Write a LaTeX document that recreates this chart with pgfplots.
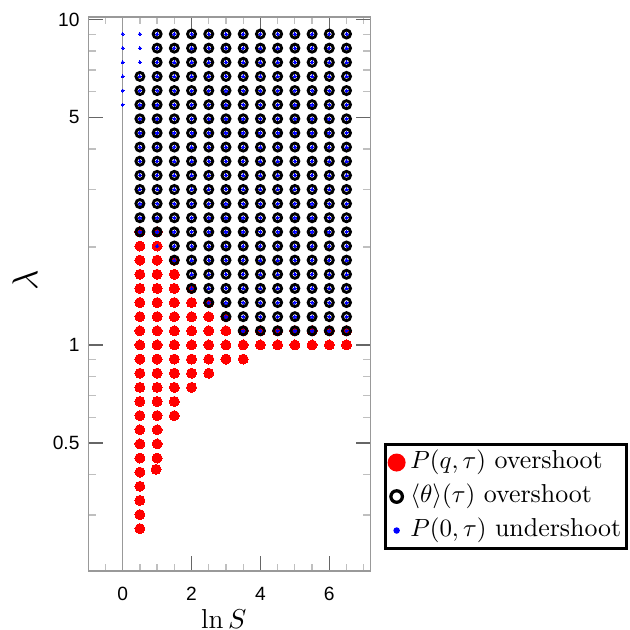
\documentclass[border=0pt]{standalone}
\usepackage{pgfplots}
\pgfplotsset{compat=1.18}
\usepackage{pgfplotstable}
\usepackage{fontspec}
\newfontfamily\ticksf{Liberation Sans}

\pgfplotstableread[row sep=\\]{
x y\\
0.5 2.2255\\0.5 2.4596\\0.5 2.7183\\0.5 3.0042\\0.5 3.3201\\0.5 3.6693\\0.5 4.0552\\0.5 4.4817\\0.5 4.9530\\0.5 5.4739\\0.5 6.0496\\0.5 6.6859\\
1 2.2255\\1 2.4596\\1 2.7183\\1 3.0042\\1 3.3201\\1 3.6693\\1 4.0552\\1 4.4817\\1 4.9530\\1 5.4739\\1 6.0496\\1 6.6859\\1 7.3891\\1 8.1662\\1 9.0250\\
1.5 1.8221\\1.5 2.0138\\1.5 2.2255\\1.5 2.4596\\1.5 2.7183\\1.5 3.0042\\1.5 3.3201\\1.5 3.6693\\1.5 4.0552\\1.5 4.4817\\1.5 4.9530\\1.5 5.4739\\1.5 6.0496\\1.5 6.6859\\1.5 7.3891\\1.5 8.1662\\1.5 9.0250\\
2 1.4918\\2 1.6487\\2 1.8221\\2 2.0138\\2 2.2255\\2 2.4596\\2 2.7183\\2 3.0042\\2 3.3201\\2 3.6693\\2 4.0552\\2 4.4817\\2 4.9530\\2 5.4739\\2 6.0496\\2 6.6859\\2 7.3891\\2 8.1662\\2 9.0250\\
2.5 1.3499\\2.5 1.4918\\2.5 1.6487\\2.5 1.8221\\2.5 2.0138\\2.5 2.2255\\2.5 2.4596\\2.5 2.7183\\2.5 3.0042\\2.5 3.3201\\2.5 3.6693\\2.5 4.0552\\2.5 4.4817\\2.5 4.9530\\2.5 5.4739\\2.5 6.0496\\2.5 6.6859\\2.5 7.3891\\2.5 8.1662\\2.5 9.0250\\
3 1.2214\\3 1.3499\\3 1.4918\\3 1.6487\\3 1.8221\\3 2.0138\\3 2.2255\\3 2.4596\\3 2.7183\\3 3.0042\\3 3.3201\\3 3.6693\\3 4.0552\\3 4.4817\\3 4.9530\\3 5.4739\\3 6.0496\\3 6.6859\\3 7.3891\\3 8.1662\\3 9.0250\\
3.5 1.1052\\3.5 1.2214\\3.5 1.3499\\3.5 1.4918\\3.5 1.6487\\3.5 1.8221\\3.5 2.0138\\3.5 2.2255\\3.5 2.4596\\3.5 2.7183\\3.5 3.0042\\3.5 3.3201\\3.5 3.6693\\3.5 4.0552\\3.5 4.4817\\3.5 4.9530\\3.5 5.4739\\3.5 6.0496\\3.5 6.6859\\3.5 7.3891\\3.5 8.1662\\3.5 9.0250\\
4 1.1052\\4 1.2214\\4 1.3499\\4 1.4918\\4 1.6487\\4 1.8221\\4 2.0138\\4 2.2255\\4 2.4596\\4 2.7183\\4 3.0042\\4 3.3201\\4 3.6693\\4 4.0552\\4 4.4817\\4 4.9530\\4 5.4739\\4 6.0496\\4 6.6859\\4 7.3891\\4 8.1662\\4 9.0250\\
4.5 1.1052\\4.5 1.2214\\4.5 1.3499\\4.5 1.4918\\4.5 1.6487\\4.5 1.8221\\4.5 2.0138\\4.5 2.2255\\4.5 2.4596\\4.5 2.7183\\4.5 3.0042\\4.5 3.3201\\4.5 3.6693\\4.5 4.0552\\4.5 4.4817\\4.5 4.9530\\4.5 5.4739\\4.5 6.0496\\4.5 6.6859\\4.5 7.3891\\4.5 8.1662\\4.5 9.0250\\
5 1.1052\\5 1.2214\\5 1.3499\\5 1.4918\\5 1.6487\\5 1.8221\\5 2.0138\\5 2.2255\\5 2.4596\\5 2.7183\\5 3.0042\\5 3.3201\\5 3.6693\\5 4.0552\\5 4.4817\\5 4.9530\\5 5.4739\\5 6.0496\\5 6.6859\\5 7.3891\\5 8.1662\\5 9.0250\\
5.5 1.1052\\5.5 1.2214\\5.5 1.3499\\5.5 1.4918\\5.5 1.6487\\5.5 1.8221\\5.5 2.0138\\5.5 2.2255\\5.5 2.4596\\5.5 2.7183\\5.5 3.0042\\5.5 3.3201\\5.5 3.6693\\5.5 4.0552\\5.5 4.4817\\5.5 4.9530\\5.5 5.4739\\5.5 6.0496\\5.5 6.6859\\5.5 7.3891\\5.5 8.1662\\5.5 9.0250\\
6 1.1052\\6 1.2214\\6 1.3499\\6 1.4918\\6 1.6487\\6 1.8221\\6 2.0138\\6 2.2255\\6 2.4596\\6 2.7183\\6 3.0042\\6 3.3201\\6 3.6693\\6 4.0552\\6 4.4817\\6 4.9530\\6 5.4739\\6 6.0496\\6 6.6859\\6 7.3891\\6 8.1662\\6 9.0250\\
6.5 1.1052\\6.5 1.2214\\6.5 1.3499\\6.5 1.4918\\6.5 1.6487\\6.5 1.8221\\6.5 2.0138\\6.5 2.2255\\6.5 2.4596\\6.5 2.7183\\6.5 3.0042\\6.5 3.3201\\6.5 3.6693\\6.5 4.0552\\6.5 4.4817\\6.5 4.9530\\6.5 5.4739\\6.5 6.0496\\6.5 6.6859\\6.5 7.3891\\6.5 8.1662\\6.5 9.0250\\
}\ringdata

\begin{document}
\begin{tikzpicture}
\begin{axis}[
  at={(0,0)}, anchor=south west,
  scale only axis, width=112.96bp, height=221.6bp,
  xmin=-1, xmax=7.2, ymode=log, ymin=0.202, ymax=10.18,
  xtick={0,2,4,6}, xticklabels={0,2,4,6},
  minor xtick={-0.5,0.5,1,1.5,2.5,3,3.5,4.5,5,5.5,6.5,7},
  ytick={0.5,1,5,10}, yticklabels={0.5,1,5,10},
  minor ytick={0.3,0.4,0.6,0.7,0.8,0.9,2,3,4,6,7,8,9},
  tick align=inside, xtick pos=both, ytick pos=both,
  major tick length=6bp, minor tick length=3bp,
  axis line style={draw=black!40, line width=0.5bp},
  major tick style={draw=black!60, line width=0.6bp},
  minor tick style={draw=black!25, line width=0.5bp},
  ticklabel style={font=\ticksf\fontsize{7.7}{9}\selectfont},
  xticklabel style={yshift=-3bp},
  /pgf/number format/assume math mode=true,
  xlabel={$\ln S$}, ylabel={$\lambda$},
  xlabel style={at={(axis description cs:0.48,-0.0866)}, anchor=center, font=\fontsize{11}{13}\selectfont},
  ylabel style={at={(axis description cs:-0.224,0.525)}, anchor=center, font=\fontsize{14}{16}\selectfont},
  legend style={at={(rel axis cs:1.047,0.231)}, anchor=north west, draw=black, line width=1.2bp,
    font=\fontsize{10.4}{12}\selectfont, inner xsep=0.5bp, inner ysep=0.7bp, row sep=0.6bp,
    nodes={inner sep=1.5bp, text height=7.5bp, text depth=2.5bp}},
  legend cell align=left,
  clip=false,
]
\draw[black!40, line width=0.4bp] (axis cs:0,0.202) -- (axis cs:0,10.18);

\addplot[only marks, color=red, mark=*, mark size=2bp, mark options={draw=none, fill=red, line width=0pt},
  legend image code/.code={\path[draw=none] (-4bp,-3.6bp) rectangle (4bp,3.6bp); \fill[red, draw=none] (0bp,0bp) circle (3.6bp);}]
coordinates {
(0.5,0.2725)(0.5,0.3012)(0.5,0.3329)(0.5,0.3679)(0.5,0.4066)(0.5,0.4493)(0.5,0.4966)(0.5,0.5488)(0.5,0.6065)(0.5,0.6703)(0.5,0.7408)(0.5,0.8187)(0.5,0.9048)(0.5,1)(0.5,1.1052)(0.5,1.2214)(0.5,1.3499)(0.5,1.4918)(0.5,1.6487)(0.5,1.8221)(0.5,2.0138)(0.5,2.2255)
(1,0.4493)(1,0.4966)(1,0.5488)(1,0.6065)(1,0.6703)(1,0.7408)(1,0.8187)(1,0.9048)(1,1)(1,1.1052)(1,1.2214)(1,1.3499)(1,1.4918)(1,1.6487)(1,1.8221)(1,2.0138)(1,2.2255)(0.97,0.4148)
(1.5,0.6065)(1.5,0.6703)(1.5,0.7408)(1.5,0.8187)(1.5,0.9048)(1.5,1)(1.5,1.1052)(1.5,1.2214)(1.5,1.3499)(1.5,1.4918)(1.5,1.6487)(1.5,1.8221)
(2,0.7408)(2,0.8187)(2,0.9048)(2,1)(2,1.1052)(2,1.2214)(2,1.3499)(2,1.4918)
(2.5,0.8187)(2.5,0.9048)(2.5,1)(2.5,1.1052)(2.5,1.2214)(2.5,1.3499)
(3,0.9048)(3,1)(3,1.1052)(3,1.2214)
(3.5,0.9048)(3.5,1)(3.5,1.1052)
(4,1)(4,1.1052)(4.5,1)(4.5,1.1052)(5,1)(5,1.1052)(5.5,1)(5.5,1.1052)(6,1)(6,1.1052)(6.5,1)(6.5,1.1052)
};
\addlegendentry{$P(q,\tau)$ overshoot}

\addplot[only marks, color=black, mark=o, mark size=1.6bp, mark options={draw=black, fill=none, line width=1.15bp},
  legend image code/.code={\path[draw=none] (-4bp,-3.6bp) rectangle (4bp,3.6bp); \draw[black, fill=none, line width=1.3bp] (0bp,0bp) circle (2.3bp);}]
table[x=x, y=y] {\ringdata};
\addlegendentry{$\langle\theta\rangle(\tau)$ overshoot}

\addplot[only marks, color=blue, mark=*, mark size=0.6bp, mark options={draw=none, fill=blue, line width=0pt},
  legend image code/.code={\path[draw=none] (-4bp,-3.6bp) rectangle (4bp,3.6bp); \fill[blue, draw=none] (0bp,0bp) circle (1.3bp);}]
table[x=x, y=y] {\ringdata};
\addlegendentry{$P(0,\tau)$ undershoot}

\addplot[only marks, color=blue, mark=*, mark size=0.6bp, mark options={draw=none, fill=blue, line width=0pt}, forget plot]
coordinates {
(0,5.4739)(0,6.0496)(0,6.6859)(0,7.3891)(0,8.1662)(0,9.0250)
(0.5,7.3891)(0.5,8.1662)(0.5,9.0250)
(1,2.0138)
};
\end{axis}
\pgfresetboundingbox
\path[use as bounding box] (-35.3bp,-23.6bp) rectangle (216.7bp,228.4bp);
\end{tikzpicture}
\end{document}
